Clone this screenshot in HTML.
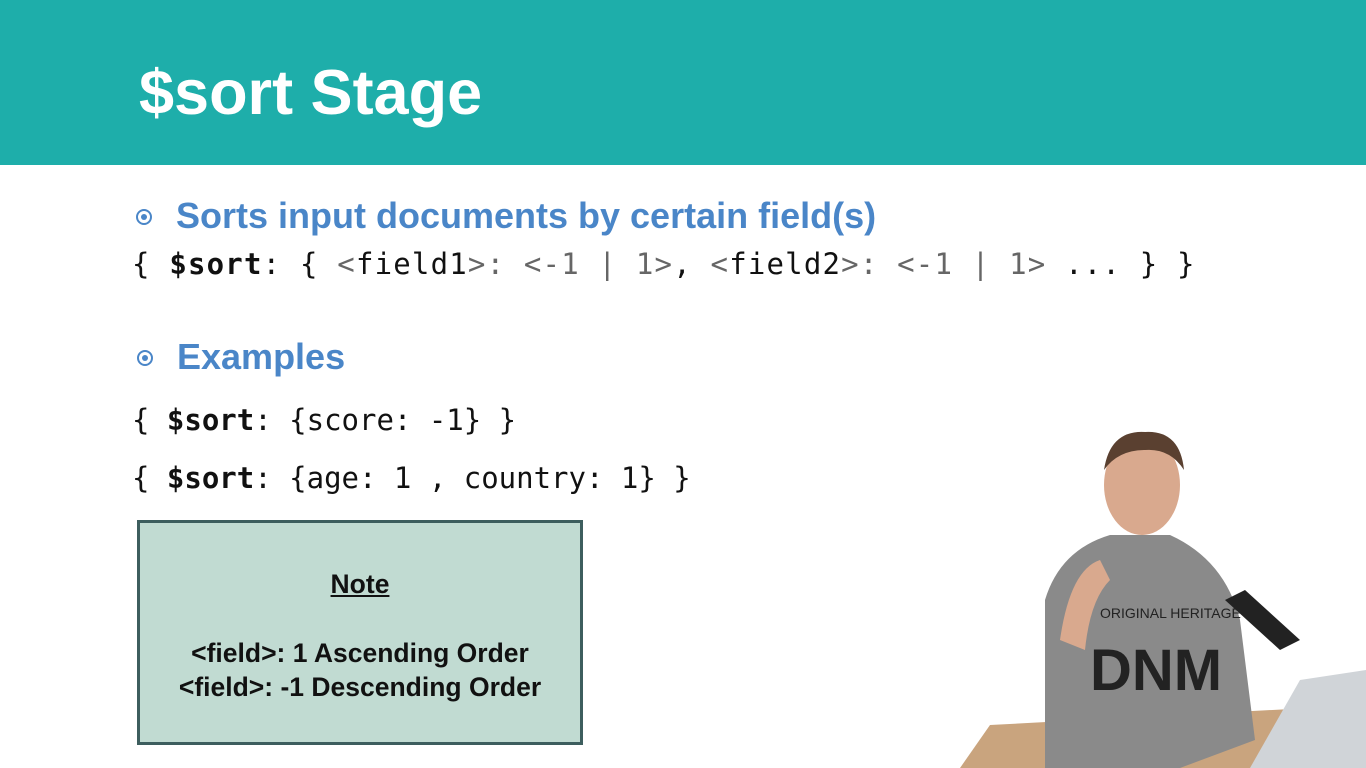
<!DOCTYPE html>
<html><head><style>
body{margin:0;width:1366px;height:768px;overflow:hidden;background:#fff;position:relative;font-family:"Liberation Sans",sans-serif}
.hdr{position:absolute;left:0;top:0;width:1366px;height:165px;background:#1eaeaa}
.title{position:absolute;left:139px;top:56px;color:#fff;font-weight:bold;font-size:63px;line-height:74px}
.b{position:absolute;color:#4a86c8;font-weight:bold;font-size:36px;line-height:40px}
.dot{position:absolute;width:16px;height:16px;border:2px solid #4a86c8;border-radius:50%;box-sizing:border-box}
.dot:after{content:"";position:absolute;left:3px;top:3px;width:6px;height:6px;border-radius:50%;background:#4a86c8}
.code{position:absolute;left:132px;font-family:"DejaVu Sans Mono","Liberation Mono",monospace;font-size:29px;line-height:36px;color:#111;white-space:pre}
.g{color:#666}
.note{position:absolute;left:137px;top:520px;width:446px;height:225px;box-sizing:border-box;border:3px solid #3d5e5e;background:#c1dbd2;text-align:center;font-weight:bold;font-size:26.5px;color:#111}
</style></head><body>
<div class="hdr"></div>
<div class="title">$sort Stage</div>
<div class="dot" style="left:136px;top:209px"></div>
<div class="b" style="left:176px;top:196px">Sorts input documents by certain field(s)</div>
<div class="code" style="top:246px;letter-spacing:1.2px">{ <b>$sort</b>: { <span class="g">&lt;</span>field1<span class="g">&gt;: &lt;-1 | 1&gt;</span>, <span class="g">&lt;</span>field2<span class="g">&gt;: &lt;-1 | 1&gt;</span> ... } }</div>
<div class="dot" style="left:137px;top:350px"></div>
<div class="b" style="left:177px;top:337px">Examples</div>
<div class="code" style="top:402px">{ <b>$sort</b>: {score: -1} }</div>
<div class="code" style="top:460px">{ <b>$sort</b>: {age: 1 , country: 1} }</div>
<div class="note">
<div style="position:absolute;left:0;right:0;top:46px;text-decoration:underline">Note</div>
<div style="position:absolute;left:0;right:0;top:113px;line-height:34px">&lt;field&gt;: 1 Ascending Order<br>&lt;field&gt;: -1 Descending Order</div>
</div>
<svg style="position:absolute;left:0;top:0" width="1366" height="768">
<polygon points="960,768 990,725 1366,705 1366,768" fill="#c9a47e"/>
<path d="M1045,768 L1045,600 Q1060,550 1110,535 L1170,535 Q1225,560 1240,620 L1255,740 L1180,768 Z" fill="#8a8a8a"/>
<ellipse cx="1142" cy="485" rx="38" ry="50" fill="#d9a98e"/>
<path d="M1104,470 Q1110,430 1145,432 Q1180,430 1184,470 Q1170,448 1145,450 Q1118,450 1104,470Z" fill="#5a4030"/>
<path d="M1060,640 Q1070,570 1100,560 L1110,580 Q1090,600 1085,650 Z" fill="#d9a98e"/>
<path d="M1250,768 L1300,680 L1366,670 L1366,768 Z" fill="#d0d4d8"/>
<path d="M1225,600 L1280,650 L1300,640 L1245,590 Z" fill="#222"/>
<text x="1100" y="618" font-family="Liberation Sans" font-size="14" fill="#222">ORIGINAL HERITAGE</text>
<text x="1090" y="690" font-family="Liberation Sans" font-weight="bold" font-size="58" fill="#222">DNM</text>
</svg>
</body></html>
